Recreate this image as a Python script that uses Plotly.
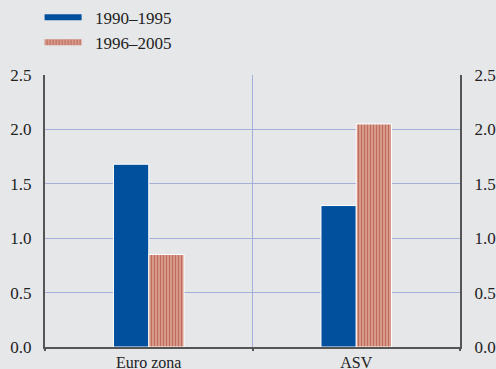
import plotly.graph_objects as go

categories = ["Euro zona", "ASV"]
series_names = ["1990–1995", "1996–2005"]
values_1990_1995 = [1.68, 1.30]
values_1996_2005 = [0.85, 2.05]
y_ticks = [0.0, 0.5, 1.0, 1.5, 2.0, 2.5]
y_tick_labels = ["0.0", "0.5", "1.0", "1.5", "2.0", "2.5"]

BG = "#e6e7e9"
BLUE = "#00509e"
RED_LIGHT = "#dda394"
RED_DARK = "#bf6c5b"
GRID = "#a3afd8"
AXIS = "#555555"
FONT = dict(family="Liberation Serif, Times New Roman, serif", size=17, color="#222222")

red_pattern = dict(shape="|", size=3, solidity=0.45, fgcolor=RED_DARK, bgcolor=RED_LIGHT, fillmode="replace")

fig = go.Figure()

fig.add_trace(go.Bar(
    x=categories, y=values_1990_1995, name=series_names[0],
    marker=dict(color=BLUE, line=dict(color="white", width=1)),
    showlegend=False,
))
fig.add_trace(go.Bar(
    x=categories, y=values_1996_2005, name=series_names[1],
    marker=dict(color=RED_LIGHT, pattern=red_pattern, line=dict(color="white", width=1)),
    showlegend=False,
))

# legend-only entries, drawn as wide flat swatches (placed on y2 so the right axis is drawn)
fig.add_trace(go.Scatter(
    x=[None], y=[None], mode="none", fill="toself", fillcolor=BLUE,
    name="\u00a0\u00a0" + series_names[0], yaxis="y2",
))
fig.add_trace(go.Scatter(
    x=[None], y=[None], mode="none", fill="toself", fillcolor=RED_LIGHT,
    fillpattern=red_pattern, name="\u00a0\u00a0" + series_names[1], yaxis="y2",
))

fig.update_layout(
    width=496, height=369,
    paper_bgcolor=BG, plot_bgcolor=BG,
    font=FONT,
    margin=dict(l=45, r=36, t=75, b=22, autoexpand=False),
    barmode="group",
    bargap=0.66,
    bargroupgap=0.0,
    showlegend=True,
    legend=dict(
        x=-0.013, xanchor="left", y=1.277, yanchor="top",
        bgcolor="rgba(0,0,0,0)", itemwidth=37,
        font=FONT, tracegroupgap=0, traceorder="normal",
    ),
    xaxis=dict(
        type="category", tickson="boundaries", showgrid=True, gridcolor=GRID, gridwidth=1,
        ticks="outside", ticklen=2, tickcolor=AXIS, tickwidth=2,
        tickfont=dict(size=16),
        showline=True, linecolor=AXIS, linewidth=2, mirror=False,
        zeroline=False, fixedrange=True,
    ),
    yaxis=dict(
        range=[0, 2.5], tickvals=y_ticks, ticktext=y_tick_labels,
        showgrid=True, gridcolor=GRID, gridwidth=1,
        ticks="outside", ticklen=8, tickcolor="rgba(0,0,0,0)",
        showline=True, linecolor=AXIS, linewidth=2,
        zeroline=False,
    ),
    yaxis2=dict(
        range=[0, 2.5], tickvals=y_ticks, ticktext=y_tick_labels,
        overlaying="y", side="right", showgrid=False,
        ticks="outside", ticklen=9, tickcolor="rgba(0,0,0,0)",
        showline=True, linecolor=AXIS, linewidth=2,
        zeroline=False,
    ),
)

fig.write_html(
    "out.html",
    config={"displayModeBar": False},
    post_script="document.body.style.margin='0';",
)
